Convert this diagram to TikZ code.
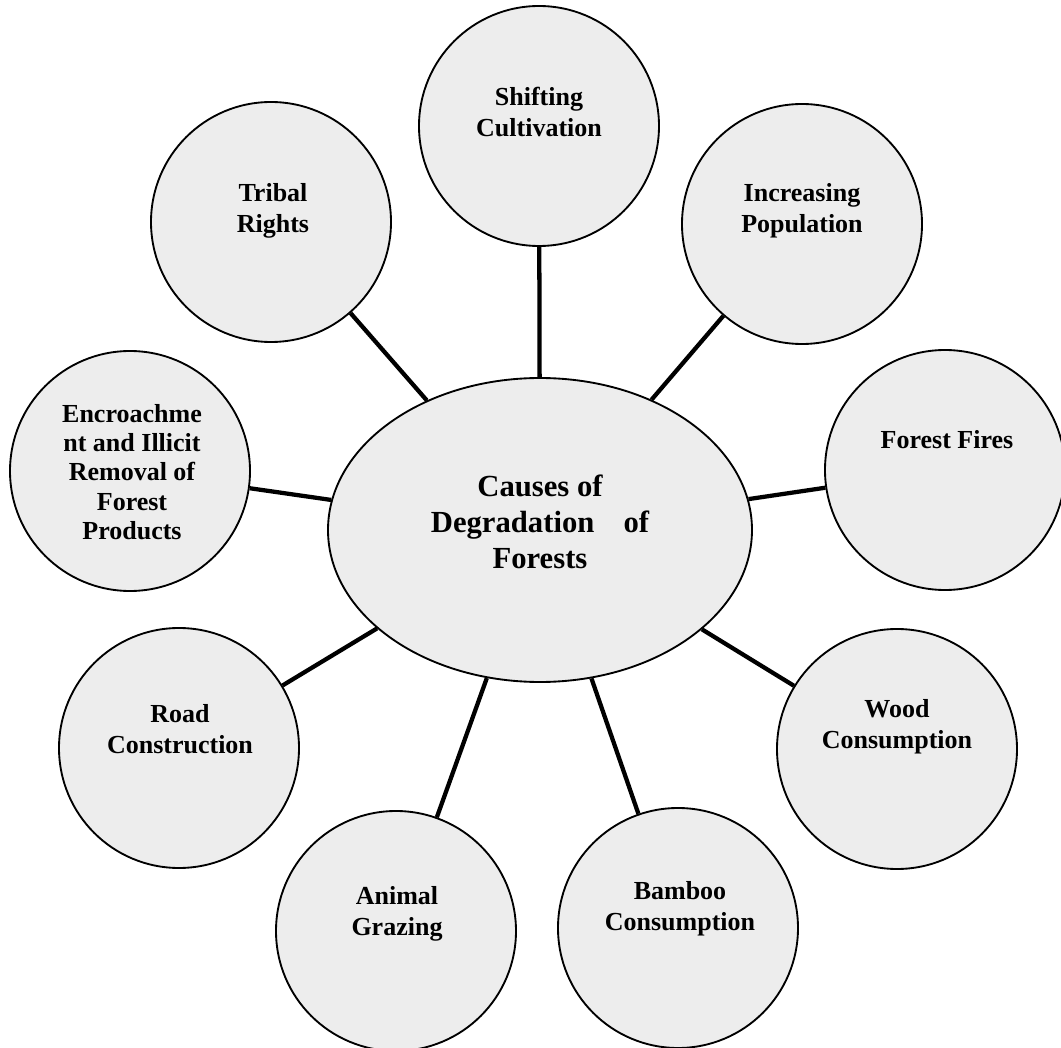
\documentclass[tikz,border=0pt]{standalone}
\usepackage{fontspec}
\setmainfont{Liberation Serif}
\usetikzlibrary{shapes.geometric}
\begin{document}
\begin{tikzpicture}[x=0.75pt,y=-0.75pt,
  bubble/.style={circle,draw=black,line width=1.4pt,fill=black!7,minimum size=180pt,inner sep=0pt},
  hub/.style={ellipse,draw=black,line width=1.4pt,fill=black!7,minimum width=318pt,minimum height=228pt,inner sep=0pt},
  lab/.style={align=center,inner sep=0pt,font=\fontsize{19.5pt}{23.5pt}\selectfont\bfseries},
  hublab/.style={align=center,inner sep=0pt,font=\fontsize{23pt}{27pt}\selectfont\bfseries},
  link/.style={line width=3.2pt}]
\useasboundingbox (0,0) rectangle (1061,1048);
% nodes
\node[hub] (c) at (540,530) {};
\node[bubble] (shift) at (539,126) {};
\node[bubble] (incr) at (802,224) {};
\node[bubble] (fire) at (945,470) {};
\node[bubble] (wood) at (897,749) {};
\node[bubble] (bamboo) at (678,928) {};
\node[bubble] (animal) at (396,931) {};
\node[bubble] (road) at (179,748) {};
\node[bubble] (encr) at (130,471) {};
\node[bubble] (tribal) at (271,222) {};
% connectors
\foreach \n in {shift,incr,fire,wood,bamboo,animal,road,encr,tribal}
  \draw[link] (c) -- (\n);
% labels
\node[hublab] (tc) at (540,522) {Causes of\\Degradation\hspace{0.7em} of\\Forests};
\node[lab] (tshift) at (539,112) {Shifting\\Cultivation};
\node[lab] (tincr) at (802,211) {Increasing\\Population};
\node[lab] (tfire) at (947,440) {Forest Fires};
\node[lab] (twood) at (897,727) {Wood\\Consumption};
\node[lab] (tbamboo) at (680,909) {Bamboo\\Consumption};
\node[lab] (tanimal) at (397,914) {Animal\\Grazing};
\node[lab] (troad) at (180,729) {Road\\Construction};
\node[lab,font=\fontsize{19.5pt}{22pt}\selectfont\bfseries] (tencr) at (132,472) {Encroachme\\nt and Illicit\\Removal of\\Forest\\Products};
\node[lab] (ttribal) at (273,211) {Tribal\\Rights};
\end{tikzpicture}
\end{document}
